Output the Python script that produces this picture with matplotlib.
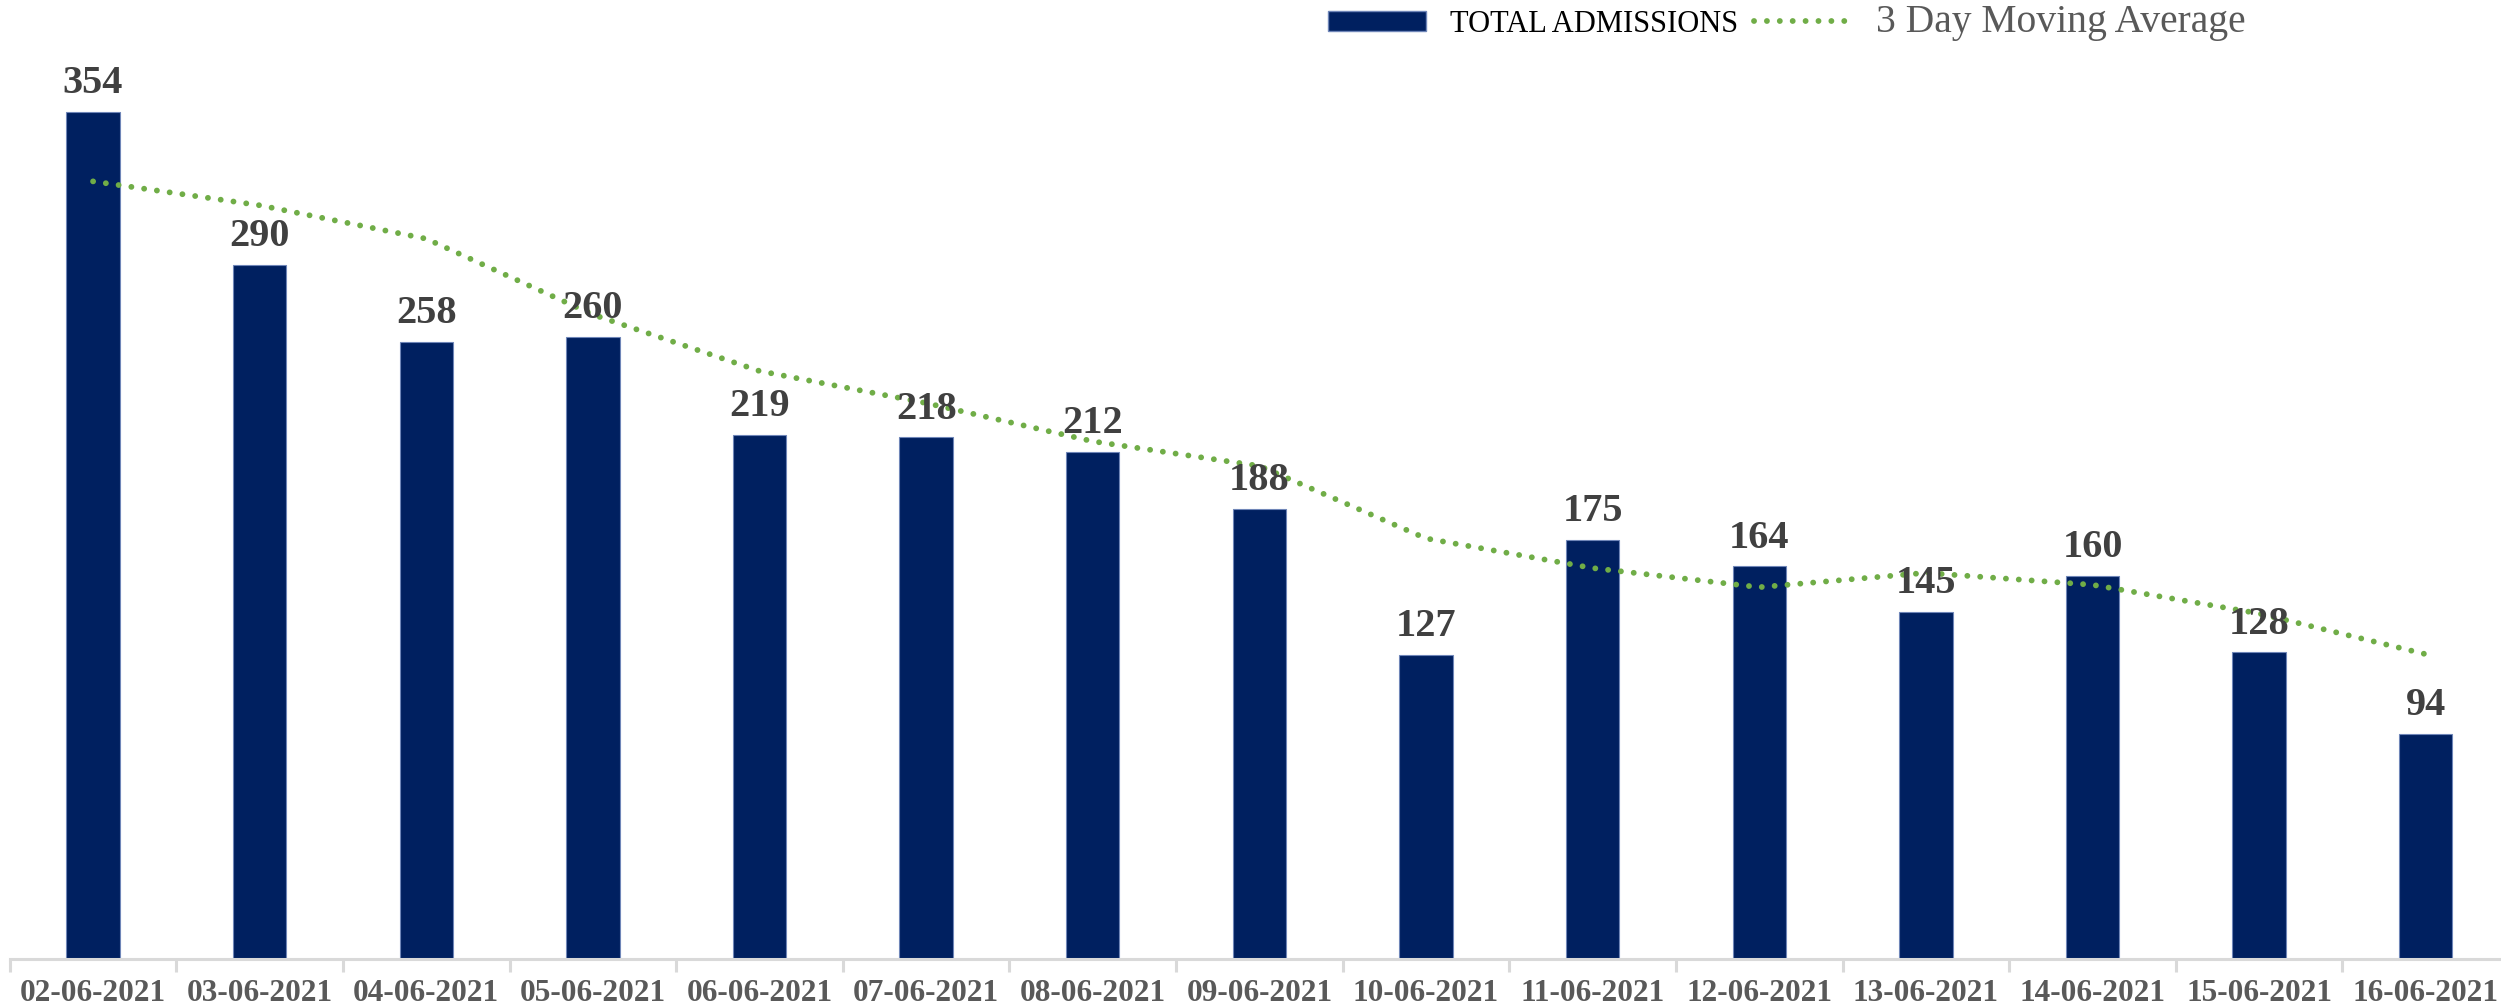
import matplotlib
matplotlib.use("Agg")
import matplotlib.pyplot as plt
from matplotlib.lines import Line2D
from matplotlib.patches import Patch

dates = ["02-06-2021", "03-06-2021", "04-06-2021", "05-06-2021", "06-06-2021",
         "07-06-2021", "08-06-2021", "09-06-2021", "10-06-2021", "11-06-2021",
         "12-06-2021", "13-06-2021", "14-06-2021", "15-06-2021", "16-06-2021"]
admissions = [354, 290, 258, 260, 219, 218, 212, 188, 127, 175, 164, 145, 160, 128, 94]
moving_avg = [325, 315, 301, 269.3, 245.7, 232.3, 216.3, 206, 175.7, 163.3,
              155.3, 161.3, 156.3, 144.3, 127.3]

plt.rcParams['font.family'] = ['Liberation Serif', 'DejaVu Serif']

fig = plt.figure(figsize=(25.01, 10.08), dpi=100)
ax = fig.add_axes([0.0039, 0.049, 0.9993, 0.949])

x = list(range(len(dates)))
ax.bar(x, admissions, width=0.32, color='#002060', edgecolor='#6F86B8',
       linewidth=0.8, zorder=2, label='TOTAL ADMISSIONS')
ax.plot(x, moving_avg, color='#70AD47', linewidth=4.2,
        linestyle=(0, (0.01, 2.2)), dash_capstyle='round', zorder=3,
        label='3 Day Moving Average')

for xi, v in zip(x, admissions):
    ax.annotate(str(v), (xi, v), xytext=(0, 7), textcoords='offset points',
                ha='center', va='bottom', fontsize=29, fontweight='bold',
                color='#404040', zorder=4)

ax.set_xlim(-0.5, len(dates) - 0.5)
ax.set_ylim(0, 400)
ax.set_yticks([])
for s in ['top', 'left', 'right']:
    ax.spines[s].set_visible(False)
ax.spines['bottom'].set_color('#D9D9D9')
ax.spines['bottom'].set_linewidth(2.2)

ax.set_xticks(x)
ax.set_xticklabels(dates, fontsize=22.5, fontweight='bold', color='#595959')
ax.tick_params(axis='x', which='major', length=0, pad=15)
ax.set_xticks([i - 0.5 for i in range(len(dates) + 1)], minor=True)
ax.tick_params(axis='x', which='minor', length=9, width=2.2, color='#D9D9D9')

handles = [Patch(facecolor='#002060', edgecolor='#6F86B8', linewidth=1),
           Line2D([0], [0], color='#70AD47', linewidth=4.2,
                  linestyle=(0, (0.01, 2.2)), dash_capstyle='round')]
leg = fig.legend(handles, ['TOTAL ADMISSIONS', '3 Day Moving Average'],
                 loc='center left', bbox_to_anchor=(0.531, 0.978), ncol=2,
                 frameon=False, fontsize=22, handlelength=3.2, handleheight=0.6,
                 handletextpad=0.8, columnspacing=0.5, borderaxespad=0, borderpad=0)
leg.get_texts()[0].set_color('#000000')
leg.get_texts()[1].set_color('#595959')
leg.get_texts()[1].set_fontsize(28.5)

fig.savefig('out.png', dpi=100)
